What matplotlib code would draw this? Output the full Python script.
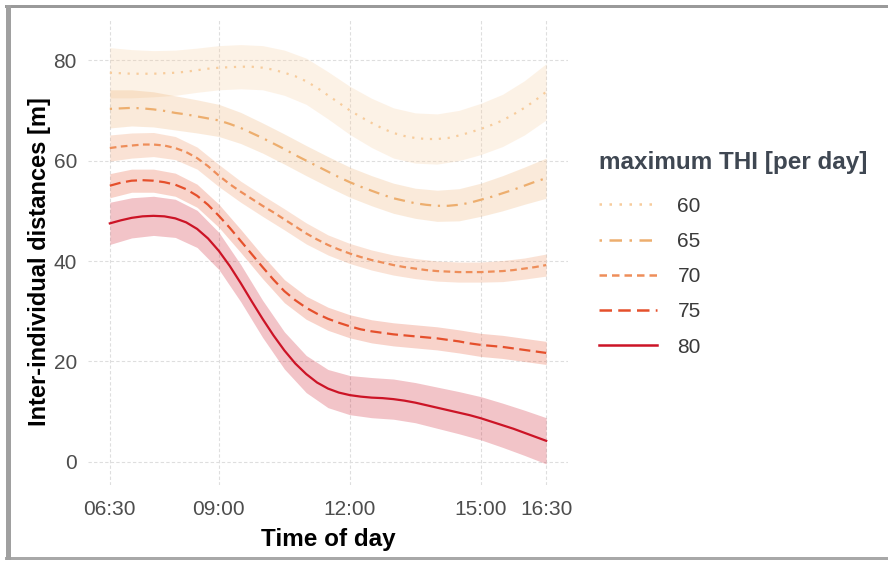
import matplotlib
matplotlib.use("Agg")
import matplotlib.pyplot as plt
from matplotlib.lines import Line2D
from matplotlib.patches import Rectangle
import numpy as np

# ---- data ----
# fitted curves, read every quarter hour
hours_fit = [6.5, 6.75, 7.0, 7.25, 7.5, 7.75, 8.0, 8.25, 8.5, 8.75, 9.0,
             9.25, 9.5, 9.75, 10.0, 10.25, 10.5, 10.75, 11.0, 11.25, 11.5,
             11.75, 12.0, 12.25, 12.5, 12.75, 13.0, 13.25, 13.5, 13.75, 14.0,
             14.25, 14.5, 14.75, 15.0, 15.25, 15.5, 15.75, 16.0, 16.25, 16.5]

thi_labels = ["60", "65", "70", "75", "80"]

fit_60 = [77.5, 77.4, 77.3, 77.3, 77.3, 77.4, 77.5, 77.7, 78.0, 78.3, 78.5,
          78.6, 78.7, 78.7, 78.5, 78.1, 77.5, 76.8, 75.8, 74.5, 73.0,
          71.5, 70.0, 68.7, 67.5, 66.4, 65.5, 64.9, 64.5, 64.3, 64.3,
          64.5, 65.0, 65.6, 66.3, 67.1, 68.0, 69.2, 70.5, 72.0, 73.7]
fit_65 = [70.3, 70.4, 70.5, 70.4, 70.2, 69.9, 69.5, 69.2, 68.8, 68.4, 68.0,
          67.3, 66.5, 65.5, 64.5, 63.4, 62.3, 61.1, 60.0, 58.9, 57.8,
          56.7, 55.7, 54.8, 54.0, 53.2, 52.5, 52.0, 51.5, 51.2, 51.0,
          51.0, 51.2, 51.6, 52.2, 52.8, 53.5, 54.2, 55.0, 55.8, 56.5]
fit_70 = [62.5, 62.8, 63.0, 63.2, 63.2, 63.0, 62.5, 61.7, 60.5, 58.9, 57.0,
          55.3, 53.8, 52.4, 51.0, 49.7, 48.3, 46.9, 45.5, 44.3, 43.2,
          42.3, 41.5, 40.8, 40.2, 39.7, 39.2, 38.8, 38.5, 38.2, 38.0,
          37.9, 37.8, 37.8, 37.8, 37.9, 38.0, 38.2, 38.5, 38.8, 39.2]
fit_75 = [55.0, 55.6, 56.0, 56.1, 56.0, 55.7, 55.2, 54.3, 53.0, 51.2, 49.0,
          46.6, 44.0, 41.4, 38.8, 36.3, 34.0, 32.2, 30.7, 29.5, 28.5,
          27.7, 27.0, 26.4, 26.0, 25.7, 25.4, 25.2, 25.0, 24.8, 24.6,
          24.3, 24.0, 23.6, 23.3, 23.1, 22.9, 22.6, 22.3, 22.0, 21.7]
fit_80 = [47.5, 48.1, 48.6, 48.9, 49.0, 48.9, 48.5, 47.7, 46.4, 44.5, 42.0,
          39.0, 35.6, 32.0, 28.5, 25.2, 22.2, 19.6, 17.5, 15.8, 14.6,
          13.8, 13.3, 13.0, 12.8, 12.7, 12.5, 12.2, 11.8, 11.3, 10.8,
          10.3, 9.8, 9.3, 8.7, 8.0, 7.3, 6.6, 5.8, 5.0, 4.2]

# confidence ribbons: half-widths read every half hour
hours_ci = [6.5, 7.0, 7.5, 8.0, 8.5, 9.0, 9.5, 10.0, 10.5, 11.0, 11.5,
            12.0, 12.5, 13.0, 13.5, 14.0, 14.5, 15.0, 15.5, 16.0, 16.5]
hw_60 = [5.0, 4.8, 4.6, 4.5, 4.4, 4.4, 4.4, 4.4, 4.5, 4.6, 4.7,
         4.8, 4.9, 5.0, 5.0, 5.0, 5.0, 5.1, 5.2, 5.4, 5.6]
hw_65 = [3.8, 3.6, 3.5, 3.4, 3.3, 3.2, 3.1, 3.0, 3.0, 3.0, 3.0,
         3.0, 3.0, 3.0, 3.0, 3.1, 3.2, 3.3, 3.5, 3.7, 4.0]
hw_70 = [2.6, 2.5, 2.4, 2.3, 2.2, 2.2, 2.1, 2.1, 2.1, 2.1, 2.0,
         2.0, 2.0, 2.0, 2.0, 2.0, 2.0, 2.0, 2.1, 2.1, 2.2]
hw_75 = [2.4, 2.3, 2.3, 2.3, 2.3, 2.3, 2.3, 2.3, 2.3, 2.3, 2.3,
         2.3, 2.3, 2.3, 2.3, 2.3, 2.3, 2.3, 2.3, 2.3, 2.3]
hw_80 = [4.2, 4.0, 3.9, 3.8, 3.7, 3.7, 3.7, 3.7, 3.7, 3.7, 3.8,
         3.9, 4.0, 4.0, 4.0, 4.1, 4.2, 4.3, 4.4, 4.5, 4.6]

x_ticks = [6.5, 9.0, 12.0, 15.0, 16.5]
x_ticklabels = ["06:30", "09:00", "12:00", "15:00", "16:30"]
y_ticks = [0, 20, 40, 60, 80]

fits = [fit_60, fit_65, fit_70, fit_75, fit_80]
hws = [hw_60, hw_65, hw_70, hw_75, hw_80]
line_colors = ["#F7CC9C", "#EDAE6E", "#EE8E5A", "#E5502C", "#CC1426"]
styles = [(0, (1, 3)), (0, (1, 3, 5, 3)), (0, (3, 2)), (0, (5, 2.5)), "-"]

plt.rcParams["font.family"] = ["Liberation Sans", "DejaVu Sans"]

fig = plt.figure(figsize=(8.88, 5.62), dpi=100)
ax = fig.add_axes([88 / 888, 1 - 485 / 562, (568 - 88) / 888, (485 - 20) / 562])

hf = np.array(hours_fit)
hc = np.array(hours_ci)
for f, w, c in zip(fits, hws, line_colors):
    fc = np.array(f)[::2]
    w = np.array(w)
    ax.fill_between(hc, fc - w, fc + w, color=c, alpha=0.25, lw=0, zorder=2)
for f, lc, ls in zip(fits, line_colors, styles):
    ax.plot(hf, f, color=lc, ls=ls, lw=1.6, zorder=3)

ax.set_xlim(6.0, 17.0)
ax.set_ylim(-4.6, 88.0)
ax.set_xticks(x_ticks)
ax.set_xticklabels(x_ticklabels)
ax.set_yticks(y_ticks)
for s in ax.spines.values():
    s.set_visible(False)
ax.grid(True, color="#DEDEDE", lw=0.8, ls=(0, (3, 2)), zorder=1)
ax.set_axisbelow(True)
ax.tick_params(length=0, labelsize=15, labelcolor="#4D4D4D")
ax.tick_params(axis="x", pad=11)
ax.tick_params(axis="y", pad=8)
ax.set_xlabel("Time of day", fontsize=17.5, fontweight="bold", labelpad=6)
ax.set_ylabel("Inter-individual distances [m]", fontsize=17, fontweight="bold")
ax.yaxis.set_label_coords(-0.078, 0.48)

handles = [Line2D([0], [0], color=lc, ls=ls, lw=1.8) for lc, ls in zip(line_colors, styles)]
leg = fig.legend(handles, thi_labels, title="maximum THI [per day]",
                 loc="upper left", bbox_to_anchor=(591 / 888, 1 - 143 / 562),
                 frameon=False, fontsize=15, title_fontsize=17.5,
                 handlelength=2.75, labelspacing=0.78, handletextpad=1.0,
                 alignment="left", borderaxespad=0)
leg.get_title().set_fontweight("bold")
leg.get_title().set_color("#3F4752")
for t in leg.get_texts():
    t.set_color("#3A3A3A")
leg._legend_box.sep = 16

# screenshot frame
fig.patches.append(Rectangle((5 / 888, 1 - 8 / 562), 883 / 888, 3 / 562,
                             transform=fig.transFigure, color="#9A9A9A", lw=0))
fig.patches.append(Rectangle((5 / 888, 1 - 560 / 562), 883 / 888, 3 / 562,
                             transform=fig.transFigure, color="#A8A8A8", lw=0))
fig.patches.append(Rectangle((6 / 888, 1 - 560 / 562), 5 / 888, 555 / 562,
                             transform=fig.transFigure, color="#A0A0A0", lw=0))

fig.savefig("out.png", dpi=100)
